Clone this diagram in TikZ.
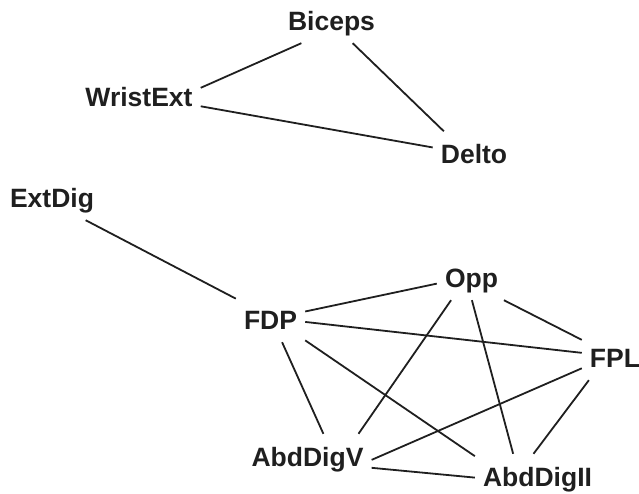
\documentclass[tikz,border=0pt]{standalone}
\usepackage{fontspec}
\setmainfont{Liberation Sans}
\usepackage{tikz}
\colorlet{ink}{black!88}

\begin{document}
\begin{tikzpicture}[x=1pt, y=-1pt,
		muscle/.style={font=\fontsize{26.5}{30}\bfseries\selectfont, text=ink, inner xsep=8pt, inner ysep=13pt, text height=19pt, text depth=0pt},
		link/.style={draw=ink, line width=1.8pt}]
			\useasboundingbox (0, 0) rectangle (639, 493);
			% muscles
			\node[muscle] (biceps) at (331.5, 20.5){Biceps};
			\node[muscle] (wrist) at (139, 96.5){WristExt};
			\node[muscle] (delto) at (474, 154){Delto};
			\node[muscle] (extdig) at (52, 197.5){ExtDig};
			\node[muscle] (opp) at (471.5, 277.5){Opp};
			\node[muscle] (fdp) at (270.5, 319.5){FDP};
			\node[muscle] (fpl) at (615, 357.5){FPL};
			\node[muscle] (abdv) at (307.5, 456.5){AbdDigV};
			\node[muscle] (abdii) at (537.5, 476.5){AbdDigII};
			% upper group
			\draw[link] (biceps.-143) -- (wrist.8);
			\draw[link] (biceps.-47) -- (delto.143);
			\draw[link] (wrist.-9) -- (delto.171);
			% hand group
			\draw[link] (extdig.-34) -- (fdp.149);
			\draw[link] (fdp.13) -- (opp.190);
			\draw[link] (fdp.-4) -- (fpl.172);
			\draw[link] (fdp.-63) -- (abdv.55);
			\draw[link] (fdp.-31) -- (abdii.162);
			\draw[link] (opp.-35) -- (fpl.152);
			\draw[link] (opp.-132) -- (abdv.24);
			\draw[link] (opp.-89) -- (abdii.137);
			\draw[link] (fpl.198) -- (abdv.-3);
			\draw[link] (fpl.-139) -- (abdii.100);
			\draw[link] (abdv.-10) -- (abdii.181);
		\end{tikzpicture}
\end{document}
